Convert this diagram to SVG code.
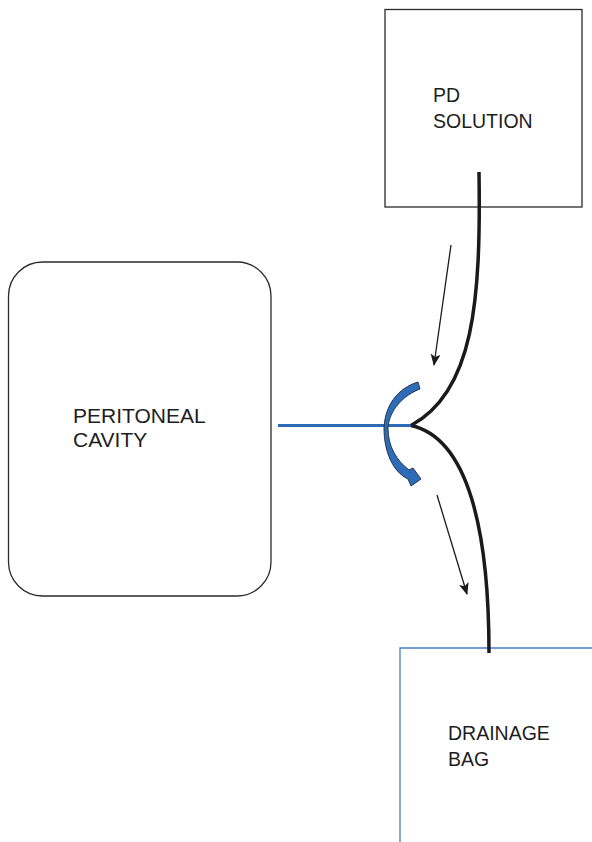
<svg xmlns="http://www.w3.org/2000/svg" width="592" height="842" viewBox="0 0 592 842">
  <defs>
    <style>
      .box { fill: #ffffff; stroke: #2a2a2a; stroke-width: 1.3; }
      .bag { fill: #ffffff; stroke: #4a7cc4; stroke-width: 1.3; }
      .label { font-family: "Liberation Sans", Arial, sans-serif; font-size: 19.5px; fill: #1e1e1e; }
      .big { font-size: 21px; }
      .tube { fill: none; stroke: #1a1a1a; stroke-width: 3.5; stroke-linecap: butt; }
      .line { fill: none; stroke: #2d6ab8; stroke-width: 3; }
      .flow { fill: none; stroke: #1a1a1a; stroke-width: 1.3; }
      .valve { fill: #2d6cb9; stroke: #1f2a3a; stroke-width: 0.9; stroke-linejoin: miter; }
    </style>
    <marker id="head" viewBox="0 0 12 10" refX="11" refY="5" markerWidth="12" markerHeight="10" markerUnits="userSpaceOnUse" orient="auto">
      <path d="M0,0 L12,5 L0,10 L3,5 Z" fill="#1a1a1a"/>
    </marker>
  </defs>

  <rect width="592" height="842" fill="#ffffff"/>

  <!-- source container -->
  <g id="pd-solution">
    <rect class="box" x="385" y="9.5" width="197" height="197.5"/>
    <text class="label" x="433" y="102">PD</text>
    <text class="label" x="433" y="128">SOLUTION</text>
  </g>

  <!-- abdominal cavity -->
  <g id="peritoneal-cavity">
    <rect class="box" x="8.5" y="262" width="262.5" height="334" rx="34" ry="34"/>
    <text class="label big" x="73" y="423">PERITONEAL</text>
    <text class="label big" x="73" y="447">CAVITY</text>
  </g>

  <!-- collection bag -->
  <g id="drainage-bag">
    <path class="bag" d="M400,842 L400,648 L592,648"/>
    <text class="label" x="448" y="740">DRAINAGE</text>
    <text class="label" x="448" y="766">BAG</text>
  </g>

  <!-- tubing, flow directions and valve -->
  <g id="connectors">
    <line class="line" x1="278" y1="425.5" x2="413" y2="425.5"/>
    <path class="tube" d="M479,172 C481,300 474,392 411,425.5"/>
    <path class="tube" d="M411,425.5 C468,438 489,530 489,653"/>
    <line class="flow" x1="451" y1="245" x2="434" y2="365" marker-end="url(#head)"/>
    <line class="flow" x1="437" y1="495" x2="467" y2="594" marker-end="url(#head)"/>
    <path class="valve" d="M418,382 L420,389 C404,395 389,410 388,428 C388,446 396,460 409,470 L413,468 L421,479 L411,486 L408,479 C393,472 384,452 384,428 C385,405 398,388 418,382 Z"/>
  </g>
</svg>
